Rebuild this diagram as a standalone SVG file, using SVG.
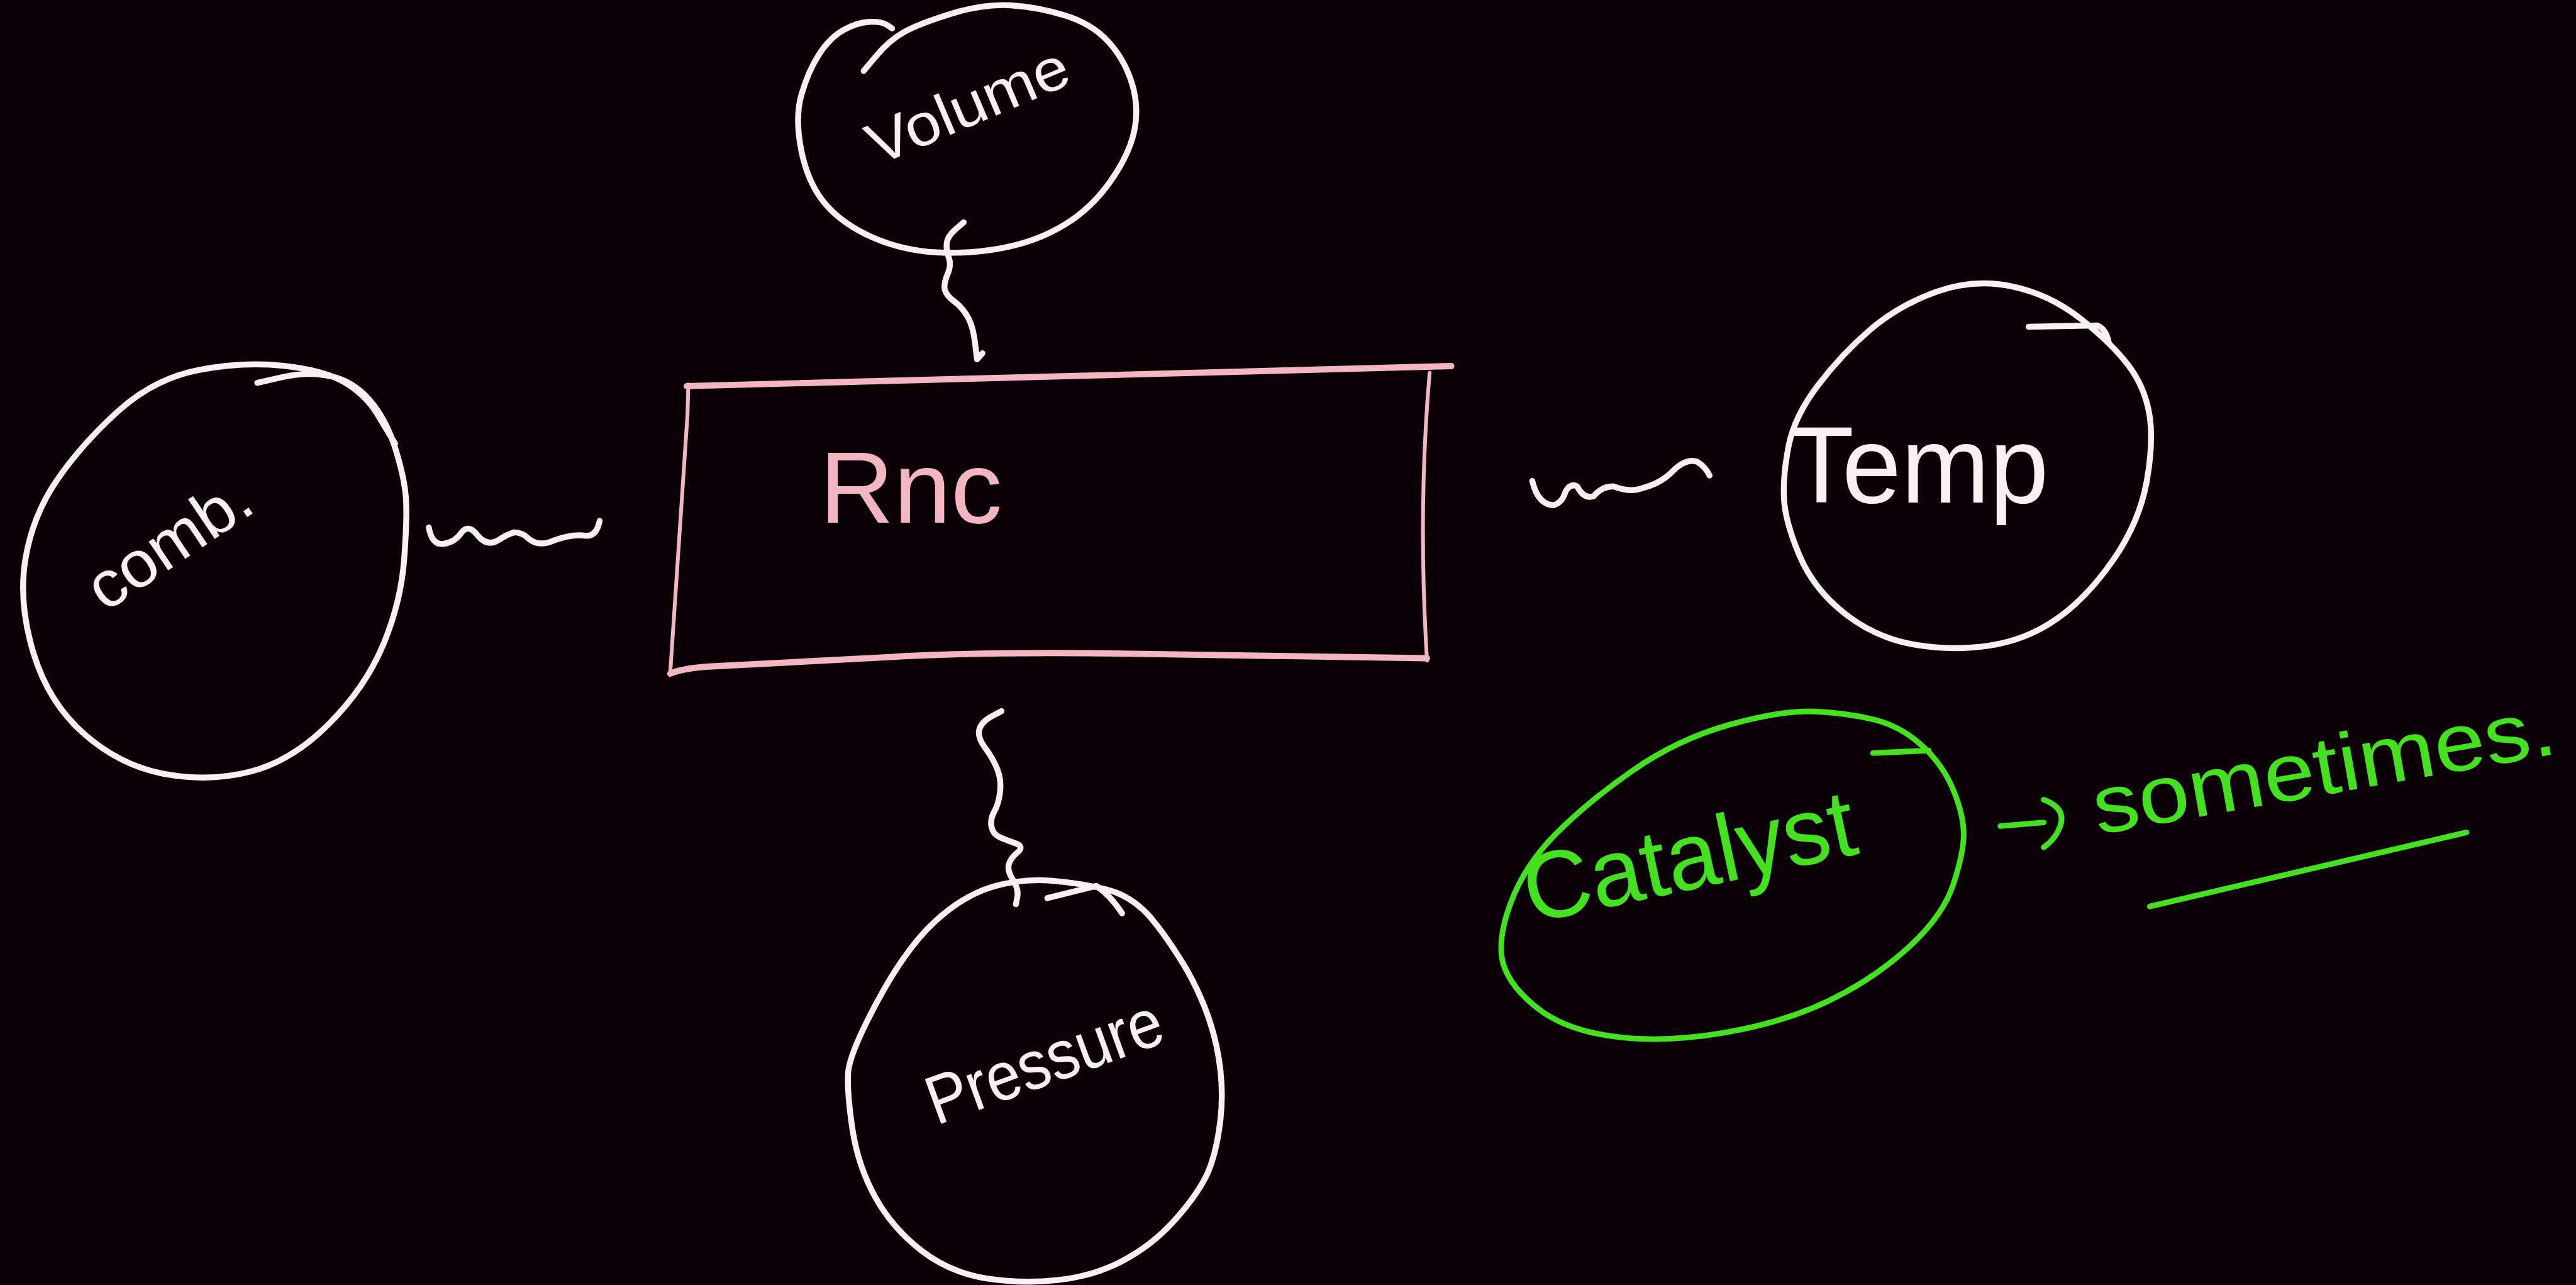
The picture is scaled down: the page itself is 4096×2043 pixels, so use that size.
<svg xmlns="http://www.w3.org/2000/svg" width="4096" height="2043" viewBox="0 0 4096 2043">
  <style>
    .ink { fill: none; stroke: #fdf0f3; stroke-width: 3.6; stroke-linecap: round; stroke-linejoin: round; }
    .pink { fill: none; stroke: #f3b6c2; stroke-linecap: round; stroke-linejoin: round; }
    .green { fill: none; stroke: #44e21e; stroke-width: 3.4; stroke-linecap: round; stroke-linejoin: round; }
    .label { font-family: "Liberation Sans", Arial, sans-serif; fill: #fdf0f3; }
    .label-pink { font-family: "Liberation Sans", Arial, sans-serif; fill: #f3b6c2; }
    .label-green { font-family: "Liberation Sans", Arial, sans-serif; fill: #44e21e; }
  </style>
  <rect width="4096" height="2043" fill="#0d0108"/>
  <!-- drawing laid out on a 1568 x 782 grid -->
  <g transform="scale(2.612245)">
    <g id="connectors">
      <!-- volume to reaction -->
      <path class="ink" d="M586.6,135.3 L581.6,139.6 Q576.6,143.9 576.25,148.2 Q575.9,152.5 577.55,156.85 Q579.2,161.2 576.75,166.95 Q574.3,172.7 575.1,176.25 Q575.9,179.8 580.8,183.4 Q585.7,187 589,192.8 Q592.3,198.6 593.5,208.65 L594.7,218.7 L598,215"/>
      <!-- concentration to reaction -->
      <path class="ink" d="M261,321 Q263,332 270,331 Q277,330 281,324 Q285,319 290,325 Q296,333 303,329 Q309,325 313,324 Q318,324 322,328 Q328,333 337,329 Q348,325 356,326 Q363,327 365,317"/>
      <!-- reaction to temperature -->
      <path class="ink" d="M932.7,292.7 Q936,307 945.6,307.5 Q951,306 953,299 Q956,294 960,296 Q964,304 970,302 Q975,296 982,296 Q992,300 1000,297 Q1012,294 1020,285 Q1027,279 1033,281 Q1038,284 1040.6,289.4"/>
      <!-- reaction to pressure -->
      <path class="ink" d="M609.6,432.8 L603.5,436.05 Q597.4,439.3 596.1,443.95 Q594.8,448.6 599.6,455.05 Q604.4,461.5 607,467.95 Q609.6,474.4 608.75,481.8 Q607.9,489.2 605.25,493.85 Q602.6,498.5 603.5,503.15 Q604.4,507.8 608.75,509.65 Q613.1,511.5 618.35,513.35 Q623.6,515.2 619.25,518.9 Q614.9,522.6 614,526.3 Q613.1,530 616.6,535.55 Q620.1,541.1 619.25,545.7 L618.4,550.3"/>
      <!-- catalyst arrow -->
      <path class="green" d="M1217.6,502.8 L1244,500.6"/>
      <path class="green" d="M1244,486.7 Q1258,492 1254,503 Q1251,511 1244,515.7"/>
    </g>

    <g id="volume">
      <path class="ink" d="M525.7,43.2 L533.5,33.85 Q541.3,24.5 550.35,19.45 Q559.4,14.4 579.15,8.3 Q598.9,2.2 615.3,3.25 Q631.7,4.3 648.15,9.35 Q664.6,14.4 674.5,25.2 Q684.4,36 688.9,50.35 Q693.4,64.7 690.55,79.1 Q687.7,93.5 676.15,110.05 Q664.6,126.6 648.15,136.7 Q631.7,146.8 611.15,150.75 Q590.6,154.7 570.05,153.6 Q549.5,152.5 531.4,144.6 Q513.3,136.7 502.65,124.45 Q492,112.2 487.85,92.05 Q483.7,71.9 487.85,57.55 Q492,43.2 498.55,33.1 Q505.1,23 513.35,18.35 Q521.6,13.7 529,13.3 Q536.4,12.9 539.7,15.1 L543,17.3"/>
      <text class="label" x="534" y="101" font-size="36" textLength="130" lengthAdjust="spacingAndGlyphs" transform="rotate(-23 534 101)">Volume</text>
    </g>

    <g id="reaction">
      <path class="pink" stroke-width="3.8" d="M418,235 L883.4,222.8"/>
      <path class="pink" stroke-width="2.3" d="M870.2,226.9 Q863,310 868.6,402"/>
      <path class="pink" stroke-width="3.8" d="M868.6,400.6 L682.6,397.8 Q600,396.5 540,400 L429.6,405.8 Q415,407 408,410"/>
      <path class="pink" stroke-width="2.3" d="M419,234 L418.5,252 L408,409"/>
      <text class="label-pink" x="499" y="318" font-size="62" textLength="111" lengthAdjust="spacingAndGlyphs">Rnc</text>
    </g>

    <g id="concentration">
      <path class="ink" d="M156.6,233 L172.05,229.5 Q187.5,226 201.25,229 Q215,232 225,243.5 Q235,255 240.5,272.5 Q246,290 247,302 Q248,314 246,340.5 Q244,367 233,393 Q222,419 199.8,441 Q177.6,463 152.8,469.5 Q128,476 101,471.2 Q74,466.4 51.8,447.2 Q29.6,428 20.35,397.4 Q11.1,366.8 15.45,340.4 Q19.8,314 34.55,292.4 Q49.3,270.8 71.5,250.6 Q93.7,230.4 120.85,225.2 Q148,220 172.65,222.65 Q197.3,225.3 209.65,232.65 Q222,240 229,251 L240.5,270"/>
      <text class="label" x="64" y="373" font-size="40" textLength="112" lengthAdjust="spacingAndGlyphs" transform="rotate(-34 64 373)">comb.</text>
    </g>

    <g id="temperature">
      <path class="ink" d="M1178.7,177.6 Q1201.7,169.4 1224.75,174.3 Q1247.8,179.2 1266.5,194.05 Q1285.2,208.9 1295.25,222 Q1305.3,235.1 1308.2,251.55 Q1311.1,268 1306.75,292.7 Q1302.4,317.4 1286.6,340.4 Q1270.8,363.4 1252.1,376.55 Q1233.4,389.7 1210.4,393 Q1187.4,396.3 1164.35,392.15 Q1141.3,388 1122.6,373.2 Q1103.9,358.4 1095.25,337.9 Q1086.6,317.4 1085.9,303.4 Q1085.2,289.4 1088.75,271.3 Q1092.3,253.2 1106.75,234.3 Q1121.2,215.4 1138.45,200.6 Q1155.7,185.8 1178.7,177.6 Z"/>
      <path class="ink" d="M1234.8,198.9 L1276.5,198.1 Q1282,200 1283.7,208.9"/>
      <text class="label" x="1089" y="306" font-size="66" textLength="158" lengthAdjust="spacingAndGlyphs">Temp</text>
    </g>

    <g id="pressure">
      <path class="ink" d="M516.25,653 Q517,641 534.5,608.65 Q552,576.3 569.45,560.5 Q586.9,544.7 604.4,539.65 Q621.9,534.6 639.35,536 Q656.8,537.4 672.55,541.1 Q688.3,544.8 700,558 Q711,571 722.3,590.1 Q735.4,613.2 740.45,636.6 Q745.5,660 742.75,682.5 Q740,705 733.35,717.5 Q726.7,730 713.6,744.2 Q700.5,758.4 683,767.55 Q665.5,776.7 643.7,779.1 Q621.9,781.5 600.05,778 Q578.2,774.5 560.7,761 Q543.2,747.5 532.75,728.6 Q522.3,709.7 518.9,687.35 Q515.5,665 516.25,653 Z"/>
      <path class="ink" d="M637.5,546.6 L667.3,539.2 Q676,545 683,555.9"/>
      <text class="label" x="570" y="685" font-size="42" textLength="150" lengthAdjust="spacingAndGlyphs" transform="rotate(-20 570 685)">Pressure</text>
    </g>

    <g id="catalyst">
      <path class="green" d="M1053.15,440.95 Q1085,432.1 1105,433.05 Q1125,434 1141,438.05 Q1157,442.1 1169.75,453.65 Q1182.5,465.2 1188.9,480.6 Q1195.3,496 1195.3,507.6 Q1195.3,519.2 1188.9,538.45 Q1182.5,557.7 1161.25,577 Q1140,596.3 1112.5,609.4 Q1085,622.5 1048.9,628.65 Q1012.8,634.8 983.1,630.95 Q953.4,627.1 936.4,614 Q919.4,600.9 915.15,587 Q910.9,573.1 919.4,550 Q927.9,526.9 947,507.6 Q966.1,488.3 993.7,469.05 Q1021.3,449.8 1053.15,440.95 Z"/>
      <path class="green" d="M1140.1,458.3 L1174.1,456.8"/>
      <text class="label-green" x="932" y="562" font-size="58" textLength="205" lengthAdjust="spacingAndGlyphs" transform="rotate(-12 932 562)">Catalyst</text>
    </g>

    <g id="sometimes">
      <text class="label-green" x="1277" y="508" font-size="50" textLength="285" lengthAdjust="spacingAndGlyphs" transform="rotate(-10 1277 508)">sometimes.</text>
      <path class="green" stroke-width="4.8" d="M1308.6,551.7 L1501.4,506.6"/>
    </g>
  </g>
</svg>
